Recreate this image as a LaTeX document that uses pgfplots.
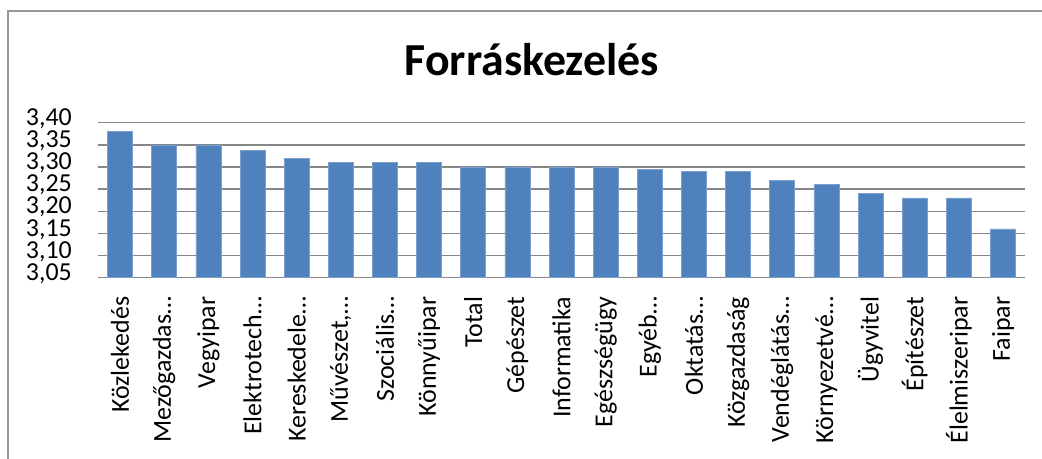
\documentclass[border=0pt]{standalone}
\usepackage{fontspec}
\setmainfont{Carlito}
\usepackage{pgfplots}
\pgfplotsset{compat=1.18}
\definecolor{barblue}{RGB}{79,129,189}
\definecolor{gridgray}{RGB}{134,134,134}
\begin{document}
\begin{tikzpicture}[x=1bp,y=1bp]
\useasboundingbox (0,0) rectangle (1042,-459);
\draw[gridgray!85, line width=2bp] (8,-461) -- (8,-11) -- (1044,-11);
\node[font=\bfseries\fontsize{46}{50}\selectfont, inner sep=0pt] at (531.7,-60) {Forráskezelés};
\begin{axis}[
  at={(98bp,-277.7bp)}, anchor=south west,
  scale only axis, width=927bp, height=155bp,
  xmin=-0.5, xmax=20.5,
  ymin=3.05, ymax=3.40,
  enlarge x limits=false, enlarge y limits=false,
  ytick={3.05,3.10,3.15,3.20,3.25,3.30,3.35,3.40},
  xtick={0,...,20},
  xticklabels={Közlekedés,Mezőgazdas…,Vegyipar,Elektrotech…,Kereskedele…,{Művészet,…},Szociális…,Könnyűipar,Total,Gépészet,Informatika,Egészségügy,Egyéb…,Oktatás…,Közgazdaság,Vendéglátás…,Környezetvé…,Ügyvitel,Építészet,Élelmiszeripar,Faipar},
  ymajorgrids,
  major grid style={gridgray, line width=1.5bp},
  axis line style={draw=none},
  major tick length=0pt,
  tick style={draw=none},
  /pgf/number format/.cd, fixed, fixed zerofill, precision=2, use comma, assume math mode=true,
  /pgfplots/.cd,
  yticklabel style={anchor=east, inner sep=0pt, xshift=-26bp, text height=0.62em, text depth=0.1em, font=\fontsize{26}{26}\selectfont},
  xticklabel style={yshift=-19bp, rotate=90, anchor=east, inner sep=0pt, font=\fontsize{26}{26}\selectfont},
  ybar, bar width=25bp,
]
\addplot[fill=barblue, draw=barblue!75!white, line width=0.6bp] coordinates {
(0,3.38) (1,3.35) (2,3.35) (3,3.337) (4,3.32) (5,3.31) (6,3.31) (7,3.31)
(8,3.30) (9,3.30) (10,3.30) (11,3.30) (12,3.295) (13,3.29) (14,3.29)
(15,3.27) (16,3.26) (17,3.24) (18,3.23) (19,3.23) (20,3.16)
};
\end{axis}
\end{tikzpicture}
\end{document}
